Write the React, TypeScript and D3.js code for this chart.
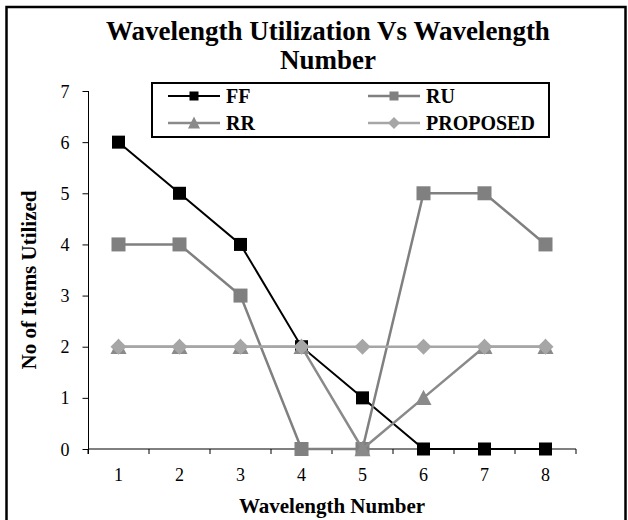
import React, { useRef, useEffect } from "react";
import * as d3 from "d3";

const wavelengths = ["1", "2", "3", "4", "5", "6", "7", "8"];
const yTicks = [0, 1, 2, 3, 4, 5, 6, 7];
const ffValues = [6, 5, 4, 2, 1, 0, 0, 0];
const ruValues = [4, 4, 3, 0, 0, 5, 5, 4];
const rrValues = [2, 2, 2, 2, 0, 1, 2, 2];
const proposedValues = [2, 2, 2, 2, 2, 2, 2, 2];

const FONT = "'Liberation Serif', 'Times New Roman', serif";

function drawMarker(g, shape, x, y, size, color) {
  if (shape === "square") {
    g.append("rect")
      .attr("x", x - size / 2)
      .attr("y", y - size / 2)
      .attr("width", size)
      .attr("height", size)
      .attr("fill", color);
  } else if (shape === "triangle") {
    const h = size * 0.9;
    g.append("path")
      .attr("d", `M${x},${y - h / 2 - 1} L${x + size / 2},${y + h / 2} L${x - size / 2},${y + h / 2} Z`)
      .attr("fill", color);
  } else {
    const r = size / 2;
    g.append("path")
      .attr("d", `M${x},${y - r} L${x + r},${y} L${x},${y + r} L${x - r},${y} Z`)
      .attr("fill", color);
  }
}

export default function App() {
  const svgRef = useRef(null);

  useEffect(() => {
    d3.select(svgRef.current).selectAll("*").remove();

    const width = 628;
    const height = 520;
    const svg = d3.select(svgRef.current)
      .attr("width", width)
      .attr("height", height);

    svg.append("rect")
      .attr("width", width)
      .attr("height", height)
      .attr("fill", "#fff");

    // outer frame
    svg.append("rect")
      .attr("x", 6.5)
      .attr("y", 7)
      .attr("width", 619)
      .attr("height", 530)
      .attr("fill", "none")
      .attr("stroke", "#000")
      .attr("stroke-width", 2.5);

    // scales
    const x = d3.scaleBand()
      .domain(wavelengths)
      .range([88, 576]);

    const y = d3.scaleLinear()
      .domain([0, 7])
      .range([449, 91]);

    const cx = (i) => x(wavelengths[i]) + x.bandwidth() / 2;

    // axes
    const xAxis = svg.append("g").attr("font-family", FONT);
    xAxis.append("line")
      .attr("x1", 88).attr("x2", 576)
      .attr("y1", y(0)).attr("y2", y(0))
      .attr("stroke", "#000");
    const bounds = wavelengths.map((w) => x(w)).concat([576]);
    xAxis.selectAll(".tick")
      .data(bounds)
      .join("line")
      .attr("x1", (d) => d).attr("x2", (d) => d)
      .attr("y1", y(0)).attr("y2", y(0) + 5)
      .attr("stroke", "#000");
    xAxis.selectAll(".lbl")
      .data(wavelengths)
      .join("text")
      .attr("x", (d, i) => cx(i))
      .attr("y", 481)
      .attr("text-anchor", "middle")
      .attr("font-size", 18)
      .text((d) => d);

    const yAxis = svg.append("g")
      .attr("transform", "translate(88.5,0)")
      .call(d3.axisLeft(y).tickValues(yTicks).tickSize(6).tickFormat(d3.format("d")));
    yAxis.select(".domain").attr("d", `M0,${y(7)}V${y(0) + 5}`);
    yAxis.selectAll("text")
      .attr("font-family", FONT)
      .attr("font-size", 18)
      .attr("fill", "#000")
      .attr("x", -19)
      .attr("dy", "0.34em");

    // series
    const series = [
      { name: "FF", values: ffValues, color: "#000", shape: "square", size: 13, lw: 2 },
      { name: "RU", values: ruValues, color: "#808080", shape: "square", size: 14, lw: 2.5 },
      { name: "RR", values: rrValues, color: "#8a8a8a", shape: "triangle", size: 16, lw: 2.5 },
      { name: "PROPOSED", values: proposedValues, color: "#a6a6a6", shape: "diamond", size: 16, lw: 2.5 },
    ];

    const line = d3.line()
      .x((d, i) => cx(i))
      .y((d) => y(d));

    series.forEach((s) => {
      const g = svg.append("g");
      g.append("path")
        .attr("d", line(s.values))
        .attr("fill", "none")
        .attr("stroke", s.color)
        .attr("stroke-width", s.lw);
      s.values.forEach((v, i) => drawMarker(g, s.shape, cx(i), y(v), s.size, s.color));
    });

    // legend
    const legend = svg.append("g").attr("font-family", FONT);
    legend.append("rect")
      .attr("x", 152)
      .attr("y", 83)
      .attr("width", 397)
      .attr("height", 54)
      .attr("fill", "#fff")
      .attr("stroke", "#000")
      .attr("stroke-width", 2);
    const legendPos = [
      { x: 168, y: 96 },
      { x: 368, y: 96 },
      { x: 168, y: 123 },
      { x: 368, y: 123 },
    ];
    series.forEach((s, i) => {
      const p = legendPos[i];
      legend.append("line")
        .attr("x1", p.x).attr("x2", p.x + 52)
        .attr("y1", p.y).attr("y2", p.y)
        .attr("stroke", s.color)
        .attr("stroke-width", s.lw);
      drawMarker(legend, s.shape, p.x + 26, p.y, s.shape === "square" ? 9 : 12, s.color);
      legend.append("text")
        .attr("x", p.x + 58)
        .attr("y", p.y + 7)
        .attr("font-size", 20)
        .attr("font-weight", "bold")
        .text(s.name);
    });

    // titles
    const title = svg.append("text")
      .attr("font-family", FONT)
      .attr("font-weight", "bold")
      .attr("font-size", 27)
      .attr("text-anchor", "middle");
    title.append("tspan").attr("x", 328).attr("y", 40).text("Wavelength Utilization Vs Wavelength");
    title.append("tspan").attr("x", 328).attr("y", 69).text("Number");

    svg.append("text")
      .attr("x", 332)
      .attr("y", 513)
      .attr("font-family", FONT)
      .attr("font-weight", "bold")
      .attr("font-size", 21)
      .attr("text-anchor", "middle")
      .text("Wavelength Number");

    svg.append("text")
      .attr("transform", "translate(36,280) rotate(-90)")
      .attr("font-family", FONT)
      .attr("font-weight", "bold")
      .attr("font-size", 21)
      .attr("text-anchor", "middle")
      .text("No of Items Utilized");
  }, []);

  return (
    <div style={{ position: "absolute", left: 0, top: 0 }}>
      <svg ref={svgRef}></svg>
    </div>
  );
}
